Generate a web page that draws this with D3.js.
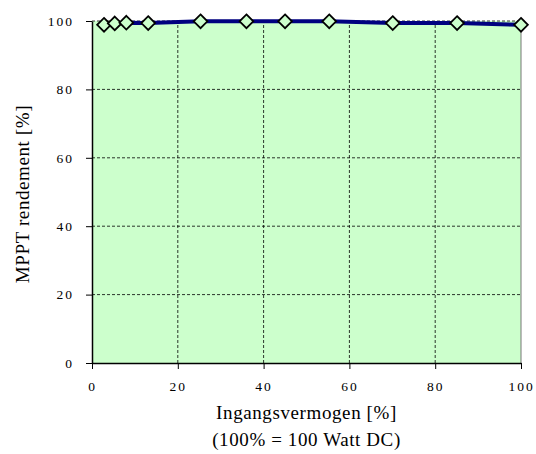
<!DOCTYPE html>
<meta charset="utf-8">
<style>
body{ margin:0; background:#fff; }
text{ font-family:"Liberation Serif","Times New Roman",serif; fill:#000; }
.tick text{ font-size:13.5px; letter-spacing:2px; }
.title{ font-size:19px; text-anchor:middle; letter-spacing:0.6px; }
.grid line{ stroke:#000; stroke-width:0.8px; stroke-dasharray:3,2; }
</style>
<body>
<div id="chart"></div>
<script src="https://d3js.org/d3.v7.min.js"></script>
<script>
var ingang = [2.8, 5.3, 8.0, 13.1, 25.3, 36.0, 45.0, 55.3, 70.1, 85.1, 100];
var rendement = [98.9, 99.3, 99.5, 99.4, 99.9, 99.9, 99.9, 99.9, 99.4, 99.4, 98.9];
var xTicks = [0, 20, 40, 60, 80, 100];
var yTicks = [0, 20, 40, 60, 80, 100];

var W = 536, H = 454;
var m = {left:92, right:15, top:21, bottom:91};

var svg = d3.select("#chart").append("svg").attr("width", W).attr("height", H);

var x = d3.scaleLinear().domain([0,100]).range([m.left, W-m.right]);
var y = d3.scaleLinear().domain([0,100]).range([H-m.bottom, m.top]);

svg.append("rect")
    .attr("x", x(0)).attr("y", y(100))
    .attr("width", x(100)-x(0)).attr("height", y(0)-y(100))
    .attr("fill", "#ccffcc");

// dashed grid
var grid = svg.append("g").attr("class","grid");
grid.selectAll(".gx").data(xTicks.slice(1,-1)).enter().append("line")
    .attr("x1", d=>x(d)).attr("x2", d=>x(d)).attr("y1", y(0)).attr("y2", y(100));
grid.selectAll(".gy").data(yTicks.slice(1)).enter().append("line")
    .attr("y1", d=>y(d)).attr("y2", d=>y(d)).attr("x1", x(0)).attr("x2", x(100));

// right frame
svg.append("line").attr("x1", x(100)).attr("x2", x(100)).attr("y1", y(0)).attr("y2", y(100))
    .attr("stroke", "#777").attr("stroke-width", 1);

var xAxis = svg.append("g").attr("transform","translate(0,"+y(0)+")")
    .call(d3.axisBottom(x).tickValues(xTicks).tickSize(6).tickPadding(12).tickSizeOuter(0));
var yAxis = svg.append("g").attr("transform","translate("+x(0)+",0)")
    .call(d3.axisLeft(y).tickValues(yTicks).tickSize(6).tickPadding(12).tickSizeOuter(0));
[xAxis, yAxis].forEach(function(a){
    a.select(".domain").attr("stroke","#000").attr("stroke-width",1.5);
    a.selectAll(".tick line").attr("stroke","#000");
    a.attr("font-family", null).attr("font-size", null);
});

var line = d3.line().x((d,i)=>x(ingang[i])).y(d=>y(d));
svg.append("path").datum(rendement)
    .attr("d", line)
    .attr("fill","none").attr("stroke","#000080").attr("stroke-width",4);

var sym = d3.symbol().type(d3.symbolDiamond2).size(120);
svg.selectAll(".pt").data(rendement).enter().append("path")
    .attr("d", sym)
    .attr("transform", (d,i)=>"translate("+x(ingang[i])+","+y(d)+")")
    .attr("fill","#ccffcc").attr("stroke","#000").attr("stroke-width",1.8);

svg.append("text").attr("class","title")
    .attr("x", (x(0)+x(100))/2).attr("y", 419).text("Ingangsvermogen [%]");
svg.append("text").attr("class","title")
    .attr("x", (x(0)+x(100))/2).attr("y", 446).text("(100% = 100 Watt DC)");
svg.append("text").attr("class","title")
    .attr("transform","translate(29,"+((y(0)+y(100))/2+2)+") rotate(-90)").text("MPPT rendement [%]");
</script>
</body>
